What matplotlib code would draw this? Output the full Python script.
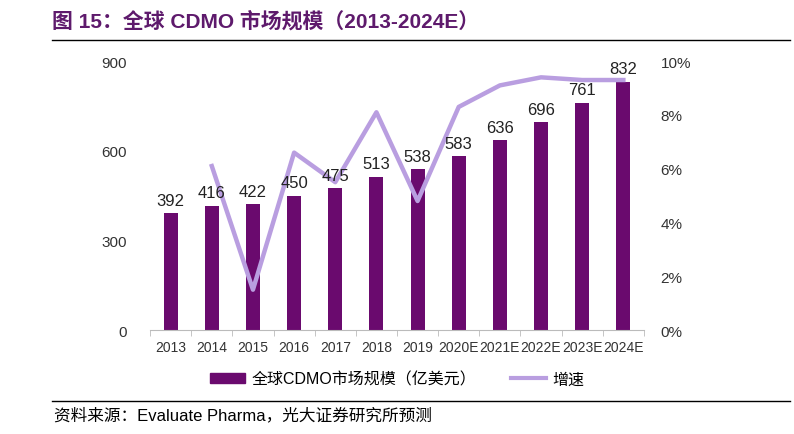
import numpy as np
import matplotlib
matplotlib.use("Agg")
import matplotlib.pyplot as plt
from matplotlib.lines import Line2D

plt.rcParams['font.family'] = ['Liberation Sans', 'Noto Sans CJK SC']

years = ['2013', '2014', '2015', '2016', '2017', '2018', '2019',
         '2020E', '2021E', '2022E', '2023E', '2024E']
market = [392, 416, 422, 450, 475, 513, 538, 583, 636, 696, 761, 832]
growth = [None, 6.1, 1.5, 6.6, 5.5, 8.1, 4.8, 8.3, 9.1, 9.4, 9.3, 9.3]

bar_color = '#6a0a6e'
line_color = '#b99ee0'
title_color = '#5e1a6c'

fig = plt.figure(figsize=(7.94, 4.35), dpi=100)
ax = fig.add_axes([0.189, 0.239, 0.622, 0.618])
ax2 = ax.twinx()

x = np.arange(len(years))
ax.bar(x, market, width=0.34, color=bar_color, zorder=2)

gx = [xi for xi, g in zip(x, growth) if g is not None]
gy = [g for g in growth if g is not None]
ax2.plot(gx, gy, color=line_color, lw=3.2, zorder=3)

# data labels on top of the line
for xi, v in zip(x, market):
    ax2.text(xi, v + 18, str(v), transform=ax.transData, ha='center', va='bottom',
             fontsize=12, color='#222222', zorder=5)

ax.set_xlim(-0.5, len(years) - 0.5)
ax.set_ylim(0, 900)
ax.set_yticks([0, 300, 600, 900])
ax2.set_ylim(0, 10)
ax2.set_yticks([0, 2, 4, 6, 8, 10])
ax2.set_yticklabels([f'{t}%' for t in [0, 2, 4, 6, 8, 10]])

ax.set_xticks(x)
ax.set_xticklabels(years, fontsize=10, color='#333333')
ax.set_xticks(np.arange(-0.5, len(years)), minor=True)
ax.tick_params(axis='x', which='major', length=0, pad=7)
ax.tick_params(axis='x', which='minor', length=4, color='#bbbbbb')
ax.tick_params(axis='y', length=0, labelsize=11, labelcolor='#333333', pad=17)
ax2.tick_params(axis='y', length=0, labelsize=11, labelcolor='#333333', pad=12)

for a in (ax, ax2):
    for s in ['top', 'left', 'right', 'bottom']:
        a.spines[s].set_visible(False)
ax.spines['bottom'].set_visible(True)
ax.spines['bottom'].set_color('#bbbbbb')

handles = [plt.Rectangle((0, 0), 1, 1, color=bar_color),
           Line2D([0], [0], color=line_color, lw=3)]
fig.legend(handles, ['全球CDMO市场规模（亿美元）', '增速'], loc='center',
           bbox_to_anchor=(0.5, 0.127), ncol=2, frameon=False, fontsize=11.5,
           handlelength=2.2, handleheight=0.6, columnspacing=2.2, handletextpad=0.4)

fig.text(0.066, 0.951, '图 15：全球 CDMO 市场规模（2013-2024E）', fontsize=15,
         fontweight='bold', color=title_color, va='center', ha='left')
fig.add_artist(Line2D([0.066, 0.995], [0.906, 0.906], color='black', lw=1))
fig.add_artist(Line2D([0.066, 0.995], [0.076, 0.076], color='black', lw=1))
fig.text(0.068, 0.045, '资料来源：Evaluate Pharma，光大证券研究所预测', fontsize=12,
         color='black', va='center', ha='left')

fig.savefig('out.png', dpi=100, facecolor='white')
